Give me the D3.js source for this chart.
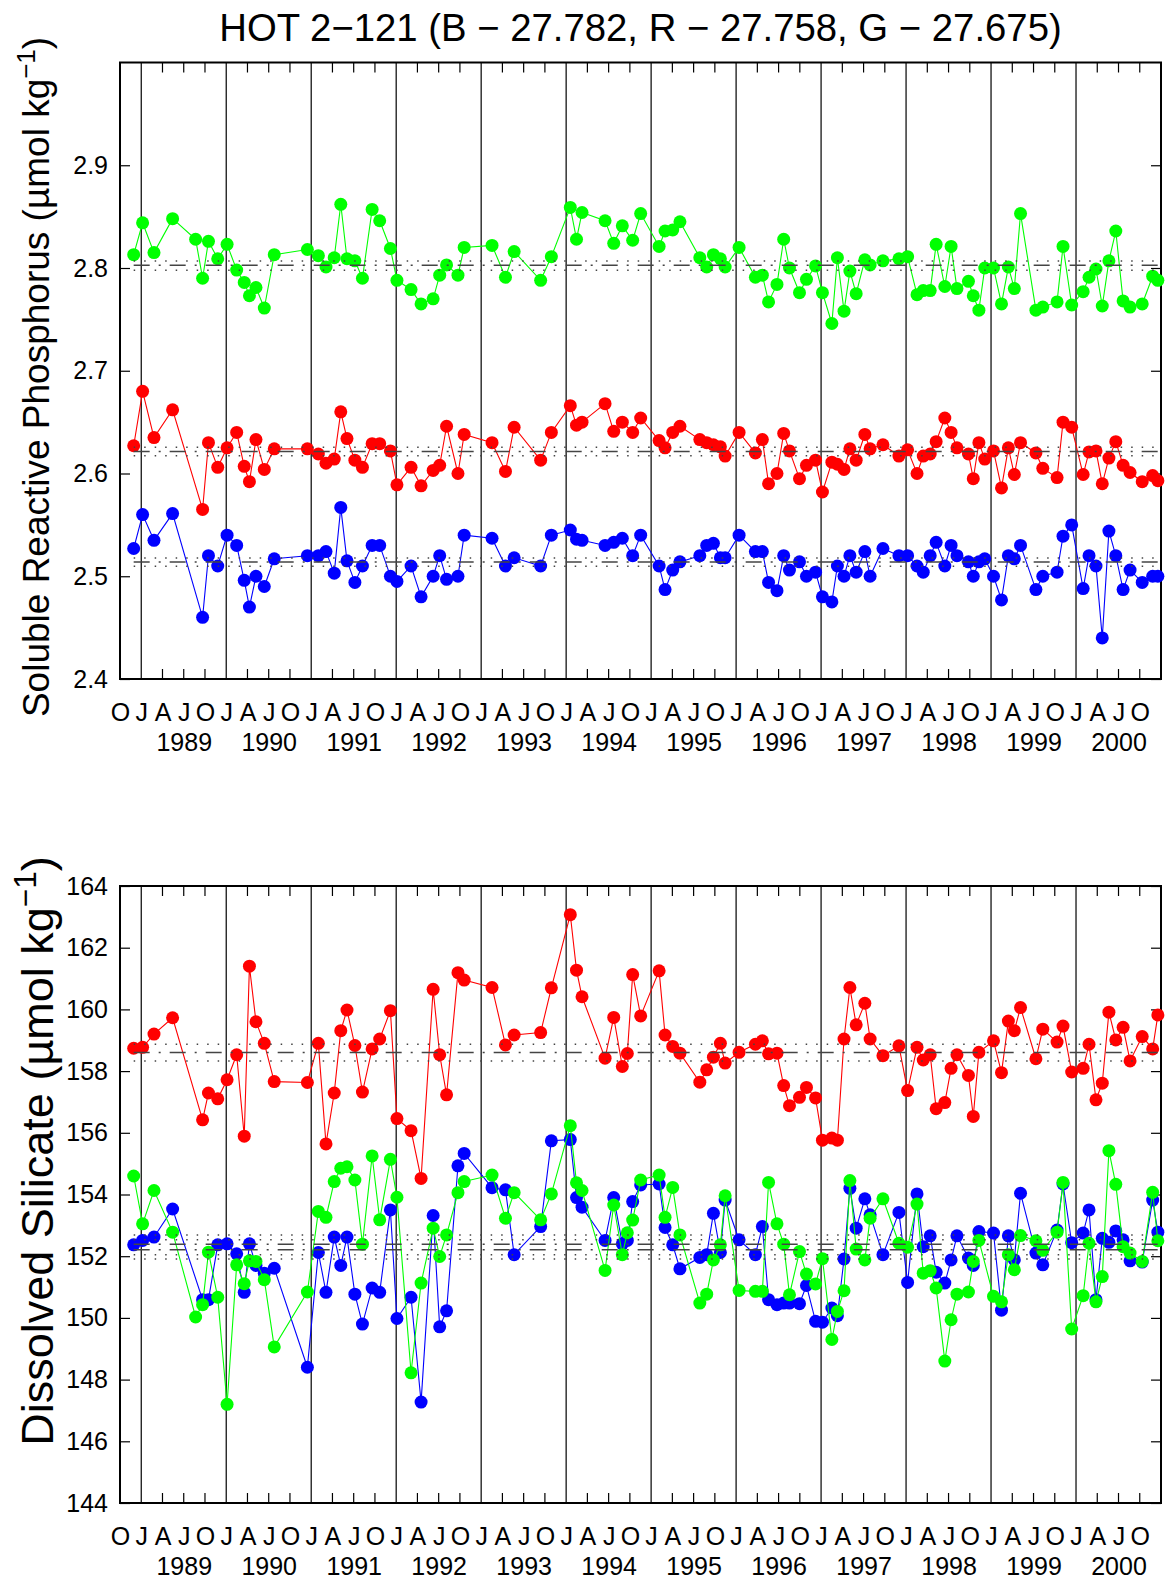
<!DOCTYPE html>
<html>
<head>
<meta charset="utf-8">
<script src="https://cdn.jsdelivr.net/npm/d3@7/dist/d3.min.js"></script>
<style>
    body { margin: 0; background: #fff; }
    svg text { font-family: 'Liberation Sans', Arial, Helvetica, sans-serif; fill: #000; }
</style>
</head>
<body>
<svg id="chart" width="1165" height="1585"></svg>
<script>
// cruise times (decimal year), shared by every series
var cruiseTimes = [
    1988.911, 1989.016, 1989.150, 1989.369, 1989.640, 1989.722, 1989.791, 1989.900, 1990.010, 1990.123,
    1990.212, 1990.273, 1990.350, 1990.448, 1990.565, 1990.955, 1991.084, 1991.174, 1991.271, 1991.348,
    1991.421, 1991.514, 1991.603, 1991.717, 1991.806, 1991.932, 1992.009, 1992.175, 1992.293, 1992.435,
    1992.512, 1992.593, 1992.727, 1992.800, 1993.128, 1993.286, 1993.388, 1993.700, 1993.826, 1994.049,
    1994.122, 1994.187, 1994.458, 1994.560, 1994.661, 1994.720, 1994.783, 1994.877, 1995.094, 1995.164,
    1995.254, 1995.339, 1995.573, 1995.654, 1995.733, 1995.815, 1995.871, 1996.035, 1996.227, 1996.309,
    1996.382, 1996.481, 1996.560, 1996.628, 1996.746, 1996.828, 1996.935, 1997.016, 1997.127, 1997.192,
    1997.270, 1997.339, 1997.413, 1997.515, 1997.577, 1997.728, 1997.916, 1998.018, 1998.129, 1998.202,
    1998.284, 1998.354, 1998.456, 1998.530, 1998.599, 1998.734, 1998.791, 1998.857, 1998.926, 1999.029,
    1999.123, 1999.204, 1999.274, 1999.347, 1999.528, 1999.609, 1999.777, 1999.847, 1999.949, 2000.084,
    2000.153, 2000.235, 2000.309, 2000.387, 2000.468, 2000.554, 2000.636, 2000.779, 2000.902, 2000.963
];

// soluble reactive phosphorus
var srpBlue = [
    2.527, 2.560, 2.535, 2.561, null, 2.460, 2.520, 2.510, 2.540, 2.530,
    2.496, 2.470, 2.500, 2.490, 2.517, 2.520, 2.520, 2.524, 2.503, 2.567,
    2.515, 2.494, 2.510, 2.530, 2.530, 2.500, 2.495, 2.510, 2.480, 2.500,
    2.520, 2.497, 2.500, 2.540, 2.537, 2.510, 2.518, 2.510, 2.540, 2.545,
    2.536, 2.535, 2.530, 2.533, 2.537, null, 2.520, 2.540, 2.510, 2.487,
    2.506, 2.514, 2.520, 2.530, 2.532, 2.518, 2.518, 2.540, 2.524, 2.524,
    2.494, 2.486, 2.520, 2.506, 2.514, 2.500, 2.504, 2.480, 2.475, 2.510,
    2.500, 2.520, 2.504, 2.524, 2.500, 2.527, 2.520, 2.520, 2.510, 2.504,
    2.520, 2.533, 2.510, 2.530, 2.520, 2.514, 2.500, 2.514, 2.517, 2.500,
    2.477, 2.520, 2.517, 2.530, 2.487, 2.500, 2.504, 2.539, 2.550, 2.488,
    2.520, 2.510, 2.440, 2.544, 2.520, 2.487, 2.506, 2.494, 2.500, 2.500
];
var srpRed = [
    2.627, 2.680, 2.635, 2.662, null, 2.565, 2.630, 2.606, 2.625, 2.640,
    2.607, 2.592, 2.633, 2.604, 2.624, 2.624, 2.619, 2.610, 2.614, 2.660,
    2.634, 2.613, 2.606, 2.629, 2.629, 2.622, 2.589, 2.606, 2.588, 2.603,
    2.608, 2.646, 2.600, 2.638, 2.630, 2.602, 2.645, 2.613, 2.640, 2.666,
    2.647, 2.650, 2.668, 2.641, 2.650, null, 2.640, 2.654, 2.632, 2.625,
    2.640, 2.646, 2.633, 2.630, 2.628, 2.626, 2.617, 2.640, 2.620, 2.633,
    2.590, 2.600, 2.639, 2.622, 2.595, 2.608, 2.613, 2.582, 2.611, 2.609,
    2.604, 2.624, 2.613, 2.638, 2.624, 2.628, 2.617, 2.623, 2.600, 2.617,
    2.619, 2.631, 2.654, 2.640, 2.625, 2.619, 2.595, 2.630, 2.614, 2.622,
    2.586, 2.625, 2.599, 2.630, 2.620, 2.605, 2.596, 2.650, 2.645, 2.599,
    2.621, 2.622, 2.590, 2.615, 2.631, 2.608, 2.601, 2.592, 2.598, 2.593
];
var srpGreen = [
    2.813, 2.844, 2.815, 2.848, 2.828, 2.790, 2.826, 2.809, 2.823, 2.798,
    2.786, 2.773, 2.781, 2.761, 2.813, 2.818, 2.812, 2.801, 2.810, 2.862,
    2.809, 2.807, 2.790, 2.857, 2.846, 2.819, 2.788, 2.779, 2.765, 2.770,
    2.793, 2.803, 2.793, 2.820, 2.822, 2.791, 2.816, 2.788, 2.811, 2.859,
    2.828, 2.854, 2.846, 2.824, 2.841, null, 2.827, 2.853, 2.821, 2.836,
    2.837, 2.845, 2.810, 2.801, 2.813, 2.809, 2.801, 2.820, 2.791, 2.793,
    2.767, 2.784, 2.828, 2.800, 2.776, 2.789, 2.802, 2.776, 2.746, 2.810,
    2.758, 2.797, 2.775, 2.808, 2.803, 2.807, 2.809, 2.811, 2.774, 2.778,
    2.778, 2.823, 2.782, 2.821, 2.780, 2.787, 2.773, 2.759, 2.800, 2.800,
    2.765, 2.801, 2.780, 2.853, 2.759, 2.762, 2.767, 2.821, 2.764, 2.777,
    2.791, 2.799, 2.763, 2.807, 2.836, 2.768, 2.762, 2.765, 2.792, 2.788
];

// dissolved silicate
var silBlue = [
    152.37, 152.51, 152.62, 153.53, null, 150.59, 150.59, 152.37, 152.40, 152.08,
    150.83, 152.40, 151.70, 151.45, 151.61, 148.40, 152.12, 150.83, 152.62, 151.70,
    152.62, 150.77, 149.80, 150.97, 150.83, 153.50, 149.98, 150.67, 147.27, 153.32,
    149.71, 150.23, 154.93, 155.33, 154.22, 154.15, 152.05, 152.96, 155.74, 155.78,
    153.90, 153.59, 152.51, 153.90, 152.40, 152.51, 153.77, 154.31, 154.34, 152.93,
    152.37, 151.59, 151.96, 152.05, 153.39, 152.12, 153.82, 152.53, 152.05, 152.96,
    150.59, 150.43, 150.48, 150.48, 150.46, 151.05, 149.89, 149.86, 150.32, 150.07,
    151.91, 154.20, 152.91, 153.86, 153.34, 152.05, 153.42, 151.15, 154.02, 152.31,
    152.66, 151.48, 151.13, 151.88, 152.66, 151.94, 151.70, 152.80, null, 152.75,
    150.25, 152.66, 151.88, 154.04, 152.10, 151.72, 152.85, 154.34, 152.44, 152.75,
    153.50, 150.59, 152.58, 152.45, 152.82, 152.53, 151.85, 151.81, 153.82, 152.78
];
var silRed = [
    158.74, 158.77, 159.20, 159.73, null, 156.42, 157.29, 157.10, 157.72, 158.53,
    155.89, 161.40, 159.60, 158.90, 157.66, 157.63, 158.90, 155.64, 157.29, 159.31,
    159.98, 158.83, 157.32, 158.72, 159.04, 159.96, 156.46, 156.07, 154.52, 160.65,
    158.53, 157.23, 161.19, 160.95, 160.71, 158.85, 159.17, 159.25, 160.70, 163.07,
    161.27, 160.41, 158.42, 159.74, 158.15, 158.57, 161.13, 159.79, 161.25, 159.17,
    158.80, 158.58, 157.64, 158.04, 158.45, 158.90, 158.26, 158.61, 158.87, 158.98,
    158.56, 158.58, 157.53, 156.88, 157.15, 157.47, 157.13, 155.76, 155.83, 155.76,
    159.04, 160.71, 159.50, 160.20, 159.04, 158.50, 158.82, 157.37, 158.77, 158.36,
    158.53, 156.78, 156.98, 158.09, 158.53, 157.86, 156.53, 158.61, null, 158.98,
    157.95, 159.62, 159.31, 160.06, 158.40, 159.36, 158.94, 159.46, 157.97, 158.09,
    158.87, 157.07, 157.61, 159.91, 159.01, 159.42, 158.33, 159.12, 158.72, 159.82
];
var silGreen = [
    154.60, 153.05, 154.13, 152.78, 150.03, 150.43, 152.13, 150.67, 147.20, 151.72,
    151.11, 151.85, 151.83, 151.24, 149.06, 150.84, 153.45, 153.26, 154.42, 154.85,
    154.90, 154.47, 152.39, 155.25, 153.18, 155.14, 153.91, 148.22, 151.13, 152.91,
    151.99, 152.69, 154.06, 154.42, 154.63, 153.23, 154.06, 153.18, 154.02, 156.23,
    154.38, 154.13, 151.54, 153.66, 152.05, 152.76, 153.17, 154.47, 154.63, 153.26,
    154.23, 152.69, 150.48, 150.77, 151.88, 152.37, 153.96, 150.89, 150.86, 150.86,
    154.39, 153.05, 152.39, 150.75, 152.15, 151.42, 151.10, 151.92, 149.30, 150.21,
    150.88, 154.45, 152.23, 151.88, 153.23, 153.86, 152.42, 152.29, 153.69, 151.45,
    151.53, 150.97, 148.60, 149.94, 150.77, 150.84, 151.83, 152.51, null, 150.70,
    150.52, 152.05, 151.56, 152.67, 152.50, 152.19, 152.78, 154.39, 149.64, 150.72,
    152.42, 150.52, 151.34, 155.42, 154.33, 152.31, 152.10, 151.83, 154.07, 152.50
];

// series means (dash-dot) and their dotted bands, in order blue, red, green
var srpMeans = [2.5139, 2.6214, 2.8026];
var srpBandLow = [2.5097, 2.6172, 2.7977];
var srpBandHigh = [2.5178, 2.6256, 2.8068];
var silMeans = [152.39, 158.60, 152.21];
var silBandLow = [152.05, 158.33, 151.91];
var silBandHigh = [152.69, 158.87, 152.53];

var srpTicks = [2.4, 2.5, 2.6, 2.7, 2.8, 2.9];
var silTicks = [144, 146, 148, 150, 152, 154, 156, 158, 160, 162, 164];
var monthLetters = ['J', 'A', 'J', 'O'];
var yearLabels = [1989, 1990, 1991, 1992, 1993, 1994, 1995, 1996, 1997, 1998, 1999, 2000];

var TIME_START = 1988.75,
    TIME_END = 2001,
    PLOT_LEFT = 120,
    PLOT_RIGHT = 1161,
    TICK_LEN = 10,
    MARKER_R = 6.5,
    COLORS = ['#0000ff', '#ff0000', '#00ff00'];

var svg = d3.select('#chart');

var x = d3.scaleLinear()
    .domain([TIME_START, TIME_END])
    .range([PLOT_LEFT, PLOT_RIGHT]);

svg.append('text')
    .attr('x', (PLOT_LEFT + PLOT_RIGHT) / 2)
    .attr('y', 40.5)
    .attr('text-anchor', 'middle')
    .style('font-size', '38.3px')
    .text('HOT 2\u2212121 (B \u2212 27.782, R \u2212 27.758, G \u2212 27.675)');

function drawPanel(opts) {
    var top = opts.top,
        bottom = opts.bottom,
        height = bottom - top,
        quarters = d3.range(TIME_START * 4, TIME_END * 4).map(q => q / 4),
        g = svg.append('g');

    var y = d3.scaleLinear()
        .domain(opts.domain)
        .range([bottom, top]);

    // January lines across the whole plot, quarter ticks on top and bottom
    g.selectAll('line.jan')
        .data(yearLabels)
        .enter().append('line')
        .attr('class', 'jan')
        .attr('x1', d => x(d)).attr('x2', d => x(d))
        .attr('y1', top).attr('y2', bottom)
        .attr('stroke', '#000')
        .attr('stroke-width', 1.2);

    var minor = quarters.filter(q => q % 1 !== 0 && q > TIME_START);
    [top, bottom].forEach(edge => {
        var dir = edge === top ? 1 : -1;
        g.selectAll(null)
            .data(minor)
            .enter().append('line')
            .attr('x1', d => x(d)).attr('x2', d => x(d))
            .attr('y1', edge).attr('y2', edge + dir * TICK_LEN)
            .attr('stroke', '#000')
            .attr('stroke-width', 1.2);
    });

    // month letters
    var monthAxis = d3.axisBottom(x)
        .tickValues(quarters)
        .tickSize(0)
        .tickPadding(24)
        .tickFormat(d => monthLetters[Math.round((d % 1) * 4)]);
    var ma = g.append('g')
        .attr('transform', `translate(0,${bottom})`)
        .call(monthAxis);
    ma.select('.domain').remove();
    ma.selectAll('text').attr('font-family', null).style('font-size', '25px');

    var yearAxis = d3.axisBottom(x)
        .tickValues(yearLabels.map(yr => yr + 0.5))
        .tickSize(0)
        .tickPadding(54)
        .tickFormat(d => String(Math.floor(d)));
    var ya = g.append('g')
        .attr('transform', `translate(0,${bottom})`)
        .call(yearAxis);
    ya.select('.domain').remove();
    ya.selectAll('text').attr('font-family', null).style('font-size', '25px');

    // y axes, ticks pointing inwards
    var left = g.append('g')
        .attr('transform', `translate(${PLOT_LEFT},0)`)
        .call(d3.axisLeft(y)
            .tickValues(opts.ticks)
            .tickSizeInner(-TICK_LEN)
            .tickSizeOuter(0)
            .tickPadding(12)
            .tickFormat(opts.format));
    left.select('.domain').remove();
    left.selectAll('.tick line').attr('stroke-width', 1.2);
    left.selectAll('text').attr('font-family', null).style('font-size', '25px');

    var right = g.append('g')
        .attr('transform', `translate(${PLOT_RIGHT},0)`)
        .call(d3.axisRight(y)
            .tickValues(opts.ticks)
            .tickSizeInner(-TICK_LEN)
            .tickSizeOuter(0)
            .tickFormat(''));
    right.select('.domain').remove();
    right.selectAll('.tick line').attr('stroke-width', 1.2);

    g.append('rect')
        .attr('x', PLOT_LEFT)
        .attr('y', top)
        .attr('width', PLOT_RIGHT - PLOT_LEFT)
        .attr('height', height)
        .attr('fill', 'none')
        .attr('stroke', '#000')
        .attr('stroke-width', 2);

    // data series: blue, red, green
    var line = d3.line()
        .x(d => x(d.t))
        .y(d => y(d.v));

    opts.series.forEach((values, i) => {
        var pts = cruiseTimes
            .map((t, k) => ({t: t, v: values[k]}))
            .filter(d => d.v != null);

        g.append('path')
            .datum(pts)
            .attr('d', line)
            .attr('fill', 'none')
            .attr('stroke', COLORS[i])
            .attr('stroke-width', 1.1);

        g.selectAll(null)
            .data(pts)
            .enter().append('circle')
            .attr('cx', d => x(d.t))
            .attr('cy', d => y(d.v))
            .attr('r', MARKER_R)
            .attr('fill', COLORS[i]);
    });

    // mean lines over the sampled span
    var t0 = d3.min(cruiseTimes),
        t1 = d3.max(cruiseTimes);
    opts.means.forEach((m, i) => {
        g.append('line')
            .attr('x1', x(t0)).attr('x2', x(t1))
            .attr('y1', y(m)).attr('y2', y(m))
            .attr('stroke', '#444')
            .attr('stroke-width', 1.5)
            .attr('stroke-dasharray', '16,9,2,9');
        [opts.low[i], opts.high[i]].forEach(b => {
            g.append('line')
                .attr('x1', x(t0)).attr('x2', x(t1))
                .attr('y1', y(b)).attr('y2', y(b))
                .attr('stroke', '#444')
                .attr('stroke-width', 1.5)
                .attr('stroke-dasharray', '1.5,9');
        });
    });

    // rotated axis label with superscript
    var size = opts.labelSize,
        label = svg.append('text')
            .attr('transform', `translate(${opts.labelX},${opts.labelY}) rotate(-90)`)
            .attr('text-anchor', 'middle')
            .style('font-size', size + 'px');
    label.append('tspan').text(opts.label + ' (\u00b5mol kg');
    label.append('tspan')
        .attr('dy', -0.38 * size)
        .style('font-size', (size * 0.7) + 'px')
        .text('\u22121');
    label.append('tspan')
        .attr('dy', 0.38 * size)
        .text(')');
}

drawPanel({
    top: 62.5,
    bottom: 679,
    domain: [2.4, 3.0],
    ticks: srpTicks,
    format: d3.format('.1f'),
    series: [srpBlue, srpRed, srpGreen],
    means: srpMeans,
    low: srpBandLow,
    high: srpBandHigh,
    label: 'Soluble Reactive Phosphorus',
    labelX: 49,
    labelY: 377,
    labelSize: 37
});

drawPanel({
    top: 886,
    bottom: 1503,
    domain: [144, 164],
    ticks: silTicks,
    format: d3.format('d'),
    series: [silBlue, silRed, silGreen],
    means: silMeans,
    low: silBandLow,
    high: silBandHigh,
    label: 'Dissolved Silicate',
    labelX: 53,
    labelY: 1151,
    labelSize: 45
});
</script>
</body>
</html>
